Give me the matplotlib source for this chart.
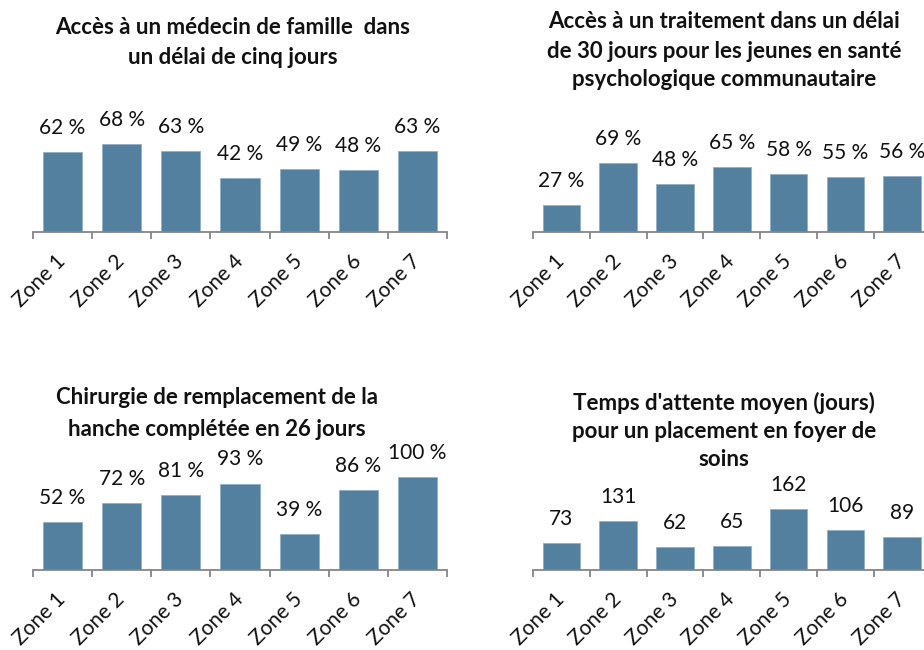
import matplotlib
matplotlib.use("Agg")
import matplotlib.pyplot as plt
import numpy as np

plt.rcParams['font.family'] = ['Lato', 'DejaVu Sans']

zones = ["Zone 1", "Zone 2", "Zone 3", "Zone 4", "Zone 5", "Zone 6", "Zone 7"]

title1 = "Accès à un médecin de famille  dans\nun délai de cinq jours"
vals1 = [62, 68, 63, 42, 49, 48, 63]

title2 = "Accès à un traitement dans un délai\nde 30 jours pour les jeunes en santé\npsychologique communautaire"
vals2 = [27, 69, 48, 65, 58, 55, 56]

title3 = "Chirurgie de remplacement de la\nhanche complétée en 26 jours"
vals3 = [52, 72, 81, 93, 39, 86, 100]

title4 = "Temps d'attente moyen (jours)\npour un placement en foyer de\nsoins"
vals4 = [73, 131, 62, 65, 162, 106, 89]

W, H = 924, 650
BAR = "#53809F"
EDGE = "#8FB0C8"
AXC = "#868686"

fig = plt.figure(figsize=(W / 100, H / 100), dpi=100)


def panel(left, right, base, ymax, scale, vals, fmt, title, tx, tys):
    height = ymax * scale
    ax = fig.add_axes([left / W, (H - base) / H, (right - left) / W, height / H])
    x = np.arange(len(zones))
    ax.bar(x, vals, width=0.66, color=BAR, edgecolor=EDGE, linewidth=0.6)
    ax.set_xlim(-0.5, len(zones) - 0.5)
    ax.set_ylim(0, ymax)
    for s in ("top", "right", "left"):
        ax.spines[s].set_visible(False)
    ax.spines["bottom"].set_color(AXC)
    ax.spines["bottom"].set_linewidth(1.3)
    ax.set_yticks([])
    ax.set_xticks(x)
    ax.set_xticklabels(zones, rotation=45, ha="right", va="center",
                       rotation_mode="anchor", fontsize=15, color="#111111")
    ax.tick_params(axis="x", which="major", length=0, pad=19)
    ax.set_xticks(np.arange(-0.5, len(zones)), minor=True)
    ax.tick_params(axis="x", which="minor", length=5, width=1.3, color=AXC)
    for xi, v in zip(x, vals):
        ax.annotate(fmt(v), (xi, v), xytext=(0, 13), textcoords="offset points",
                    ha="center", va="baseline", fontsize=15, color="#111111",
                    annotation_clip=False)
    for line, ty in zip(title.split("\n"), tys):
        fig.text(tx / W, 1 - ty / H, line, ha="center", va="center",
                 fontsize=16, fontweight="bold", color="#111111")
    return ax


pct = lambda v: f"{v} %"
num = lambda v: f"{v}"

panel(33, 447, 232, 100, 1.29, vals1, pct, title1, 233, [27, 57])
panel(533, 930.6, 232, 100, 1.0, vals2, pct, title2, 724, [22, 51, 80])
panel(33, 447, 570, 110, 0.93, vals3, pct, title3, 217, [398, 429])
panel(533, 930.6, 570, 200, 0.375, vals4, num, title4, 724, [403, 432, 460])

fig.savefig("out.png", dpi=100, facecolor="white")
